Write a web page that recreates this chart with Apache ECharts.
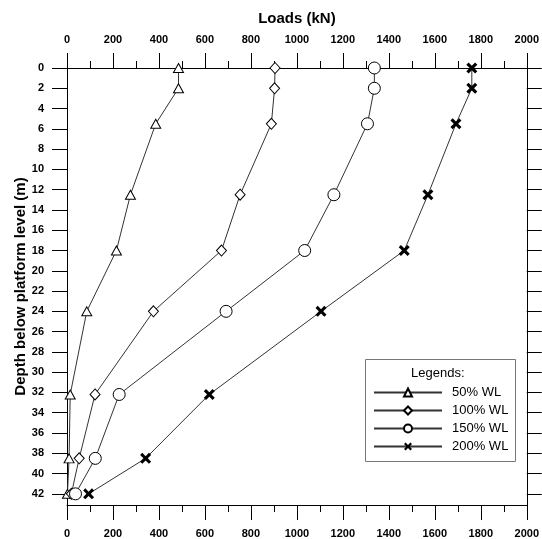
<!DOCTYPE html>
<html lang="en">
<head>
    <meta charset="UTF-8">
    <title>Loads vs depth</title>
    <script type="text/javascript" src="https://cdn.jsdelivr.net/npm/echarts@6.0.0/dist/echarts.min.js"></script>
    <style>
        html, body { margin: 0; padding: 0; background: #fff; }
    </style>
</head>
<body>
<div id="chart" style="width: 542px;height:539px;"></div>
<script>
    // depth below platform level (m)
    var depths = [0, 2, 5.5, 12.5, 18, 24, 32.2, 38.5, 42];
    // loads (kN) at each depth
    var wl50 = [485, 485, 386, 276, 215, 86, 14, 9, 2];
    var wl100 = [905, 903, 889, 753, 672, 376, 122, 53, 19];
    var wl150 = [1337, 1337, 1307, 1161, 1034, 692, 227, 123, 37];
    var wl200 = [1761, 1761, 1692, 1570, 1467, 1105, 619, 342, 94];
    var seriesNames = ['50% WL', '100% WL', '150% WL', '200% WL'];
    var depthTicks = [0, 2, 4, 6, 8, 10, 12, 14, 16, 18, 20, 22, 24, 26, 28, 30, 32, 34, 36, 38, 40, 42];

    var FONT = 'Liberation Sans, Arial, sans-serif';
    var xMark = 'path://M2,0 L5,3 L8,0 L10,2 L7,5 L10,8 L8,10 L5,7 L2,10 L0,8 L3,5 L0,2 Z';

    function pairs(vals) {
        var out = [];
        for (var i = 0; i < vals.length; i++) {
            out.push([vals[i], depths[i]]);
        }
        return out;
    }

    var xAxisBase = function (pos, name) {
        return {
            type: 'value',
            position: pos,
            min: 0,
            max: 2000,
            interval: 200,
            name: name,
            nameLocation: 'middle',
            nameGap: 42,
            nameTextStyle: {fontFamily: FONT, fontWeight: 'bold', fontSize: 15, color: '#000'},
            axisLine: {show: true, onZero: false, lineStyle: {color: '#000', width: 1}},
            axisTick: {show: true, inside: false, length: 15, lineStyle: {color: '#000', width: 1}},
            minorTick: {show: true, splitNumber: 2, length: 7, lineStyle: {color: '#000', width: 1}},
            axisLabel: {
                margin: 23, fontFamily: FONT, fontWeight: 'bold', fontSize: 11, color: '#000',
                formatter: function (v) { return String(v); }
            },
            splitLine: {show: false}
        };
    };

    var yAxisBase = function (pos, showLabel) {
        return {
            type: 'value',
            position: pos,
            inverse: true,
            min: 0,
            max: 43.1,
            interval: 2,
            name: showLabel ? 'Depth below platform level (m)' : '',
            nameLocation: 'middle',
            nameGap: 39,
            nameMoveOverlap: false,
            nameTextStyle: {fontFamily: FONT, fontWeight: 'bold', fontSize: 15, color: '#000'},
            axisLine: {show: true, onZero: false, lineStyle: {color: '#000', width: 1}},
            axisTick: {show: true, inside: false, length: 15, lineStyle: {color: '#000', width: 1}, customValues: depthTicks},
            axisLabel: {show: showLabel, margin: 23, fontFamily: FONT, fontWeight: 'bold', fontSize: 11, color: '#000', customValues: depthTicks},
            splitLine: {show: false}
        };
    };

    var markerStyle = {color: '#fff', borderColor: '#000', borderWidth: 1};

    var option = {
        animation: false,
        backgroundColor: '#fff',
        grid: {left: 67, right: 12, top: 68, bottom: 33},
        xAxis: [xAxisBase('top', 'Loads (kN)'), xAxisBase('bottom', '')],
        yAxis: [yAxisBase('left', true), yAxisBase('right', false)],
        legend: {
            orient: 'vertical',
            left: 373,
            top: 386,
            padding: 0,
            itemWidth: 68,
            itemHeight: 10,
            itemGap: 5,
            selectedMode: false,
            textStyle: {fontFamily: FONT, fontSize: 13, color: '#000', padding: [0, 0, 0, 5]},
            data: seriesNames
        },
        graphic: [
            {
                type: 'rect',
                left: 363,
                top: 357,
                shape: {width: 150, height: 102},
                style: {fill: 'none', stroke: '#777', lineWidth: 1},
                z: 1
            },
            {
                type: 'text',
                left: 411,
                top: 367,
                style: {text: 'Legends:', fontFamily: FONT, fontSize: 13, fill: '#000'},
                z: 2
            }
        ],
        series: [
            {
                name: seriesNames[0], type: 'line', data: pairs(wl50),
                symbol: 'triangle', symbolSize: [10, 9],
                itemStyle: markerStyle,
                lineStyle: {color: '#333', width: 1}
            },
            {
                name: seriesNames[1], type: 'line', data: pairs(wl100),
                symbol: 'diamond', symbolSize: [10, 11],
                itemStyle: markerStyle,
                lineStyle: {color: '#333', width: 1}
            },
            {
                name: seriesNames[2], type: 'line', data: pairs(wl150),
                symbol: 'circle', symbolSize: 12,
                itemStyle: markerStyle,
                lineStyle: {color: '#333', width: 1}
            },
            {
                name: seriesNames[3], type: 'line', data: pairs(wl200),
                symbol: xMark, symbolSize: 11,
                itemStyle: {color: '#000', borderWidth: 0},
                lineStyle: {color: '#333', width: 1}
            }
        ]
    };

    var myChart = echarts.init(document.getElementById('chart'));
    myChart.setOption(option);
</script>
</body>
</html>
